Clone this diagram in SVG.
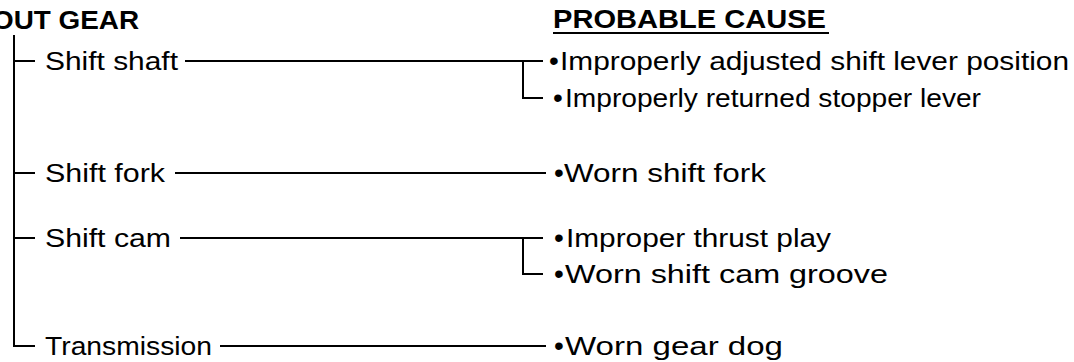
<svg xmlns="http://www.w3.org/2000/svg" width="1074" height="362" viewBox="0 0 1074 362">
<style>
.t{font-family:"Liberation Sans",Arial,Helvetica,sans-serif;font-size:26px;fill:#000}
.h{font-family:"Liberation Sans",Arial,Helvetica,sans-serif;font-size:25px;font-weight:bold;fill:#000}
.b{font-family:"Liberation Sans",Arial,Helvetica,sans-serif;font-size:28px;fill:#000}
.c{stroke:#000;stroke-width:2;fill:none}
</style>
<rect width="1074" height="362" fill="#fff"/>
<g id="headers">
<text class="h" x="-8" y="29" textLength="147" lengthAdjust="spacingAndGlyphs">OUT GEAR</text>
<text class="h" x="553" y="28" textLength="273" lengthAdjust="spacingAndGlyphs">PROBABLE CAUSE</text>
<line class="c" x1="553" y1="33" x2="829" y2="33"/>
</g>
<g id="connectors">
<path class="c" d="M14,35 V346 H35"/>
<line class="c" x1="14" y1="61" x2="35" y2="61"/>
<line class="c" x1="14" y1="173" x2="35" y2="173"/>
<line class="c" x1="14" y1="238" x2="35" y2="238"/>
<path class="c" d="M185,61 H543 M523,61 V98 H543"/>
<line class="c" x1="175" y1="173" x2="546" y2="173"/>
<path class="c" d="M180,238 H543 M523,238 V274 H543"/>
<line class="c" x1="220" y1="346" x2="546" y2="346"/>
</g>
<g id="n-shift-shaft"><text class="t" x="45" y="70" textLength="133" lengthAdjust="spacingAndGlyphs">Shift shaft</text></g>
<g id="n-shift-fork"><text class="t" x="45" y="182" textLength="120" lengthAdjust="spacingAndGlyphs">Shift fork</text></g>
<g id="n-shift-cam"><text class="t" x="45" y="247" textLength="126" lengthAdjust="spacingAndGlyphs">Shift cam</text></g>
<g id="n-transmission"><text class="t" x="45" y="355" textLength="167" lengthAdjust="spacingAndGlyphs">Transmission</text></g>
<g id="c-adjusted"><text class="b" x="549" y="70">•</text><text class="t" x="560" y="70" textLength="509" lengthAdjust="spacingAndGlyphs">Improperly adjusted shift lever position</text></g>
<g id="c-returned"><text class="b" x="553" y="107">•</text><text class="t" x="565" y="107" textLength="416" lengthAdjust="spacingAndGlyphs">Improperly returned stopper lever</text></g>
<g id="c-fork"><text class="b" x="554" y="182">•</text><text class="t" x="564" y="182" textLength="202" lengthAdjust="spacingAndGlyphs">Worn shift fork</text></g>
<g id="c-thrust"><text class="b" x="554" y="247">•</text><text class="t" x="566" y="247" textLength="265" lengthAdjust="spacingAndGlyphs">Improper thrust play</text></g>
<g id="c-groove"><text class="b" x="554" y="283">•</text><text class="t" x="565" y="283" textLength="323" lengthAdjust="spacingAndGlyphs">Worn shift cam groove</text></g>
<g id="c-gear-dog"><text class="b" x="554" y="355">•</text><text class="t" x="565" y="355" textLength="218" lengthAdjust="spacingAndGlyphs">Worn gear dog</text></g>
</svg>
